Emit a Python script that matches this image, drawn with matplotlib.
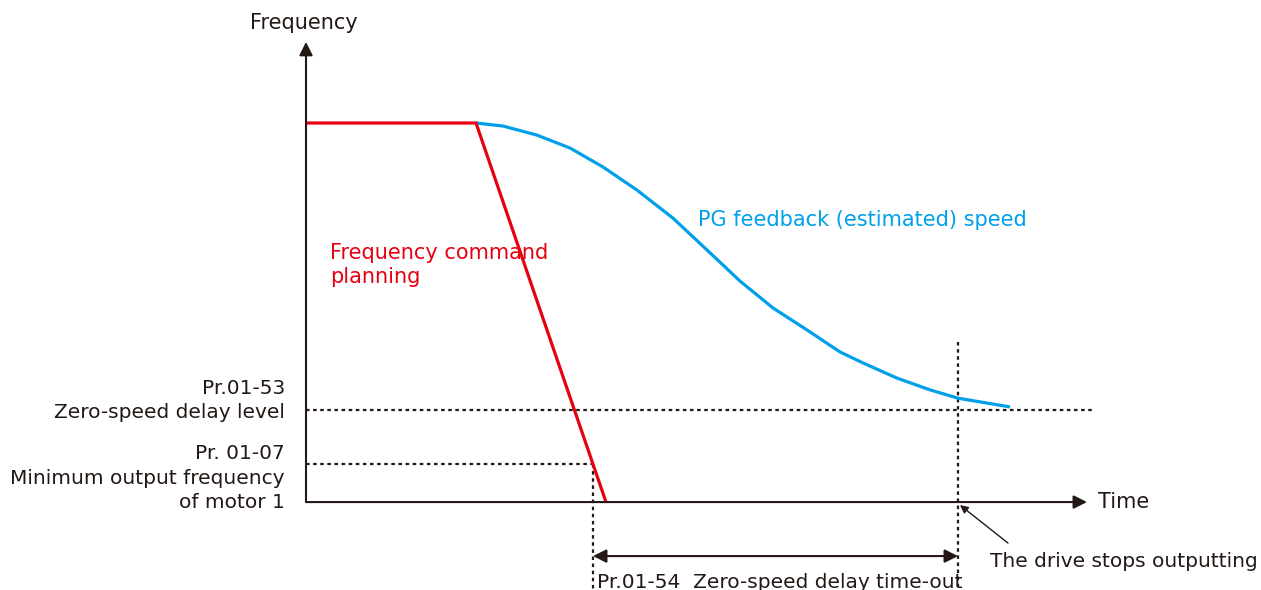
import matplotlib
matplotlib.use("Agg")
import matplotlib.pyplot as plt

# chart values (time in arbitrary units, frequency in % of max)
cmd_time = [0.0, 1.70, 3.00]
cmd_freq = [100, 100, 0]

fb_time = [1.70, 1.97, 2.31, 2.64, 2.97, 3.31, 3.67, 4.01, 4.34, 4.67, 5.01, 5.34, 5.57, 5.91, 6.24, 6.52, 7.04]
fb_freq = [100, 99.2, 96.8, 93.4, 88.4, 82.3, 74.9, 66.5, 58.3, 51.2, 45.4, 39.6, 36.7, 32.7, 29.6, 27.4, 25.1]

zero_speed_level = 24.3
min_output_freq = 10.0
t_min_freq = 2.87
t_stop = 6.52
t_axis_end = 7.81
f_axis_end = 121.4

RED = "#e60012"
BLUE = "#00a0e9"
DARK = "#231815"

plt.rcParams["font.family"] = ["DejaVu Sans"]
FS = 14.5
FS_COL = 15

fig = plt.figure(figsize=(12.61, 5.90), dpi=100)
ax = fig.add_axes([0, 0, 1, 1])
ax.set_xlim(-3.06, 9.55)
ax.set_ylim(-23.2, 132.45)
ax.axis("off")


def px(x, y):
    # pixel position of the reference -> data coords
    return (x - 306) / 100, (502 - y) / 3.79


# axes with arrows
ax.annotate("", xy=(0, f_axis_end), xytext=(0, 0),
            arrowprops=dict(arrowstyle="-|>", color=DARK, lw=1.5, mutation_scale=20, shrinkA=0, shrinkB=0))
ax.annotate("", xy=(t_axis_end, 0), xytext=(0, 0),
            arrowprops=dict(arrowstyle="-|>", color=DARK, lw=1.5, mutation_scale=20, shrinkA=0, shrinkB=0))

dot = dict(color=DARK, lw=1.6, linestyle=(0, (1.6, 1.6)))
# zero-speed delay level
ax.plot([0, px(1092, 0)[0]], [zero_speed_level, zero_speed_level], **dot)
# minimum output frequency
ax.plot([0, t_min_freq], [min_output_freq, min_output_freq], **dot)
ax.plot([t_min_freq, t_min_freq], [min_output_freq, -23.2], **dot)
# stop time
ax.plot([t_stop, t_stop], [px(0, 342)[1], -23.2], **dot)

# curves
ax.plot(fb_time, fb_freq, color=BLUE, lw=2.3, solid_capstyle="butt", solid_joinstyle="round")
ax.plot(cmd_time, cmd_freq, color=RED, lw=2.3, solid_capstyle="butt", solid_joinstyle="miter")

# delay time-out span
y_span = px(0, 556)[1]
ax.annotate("", xy=(t_stop, y_span), xytext=(t_min_freq, y_span),
            arrowprops=dict(arrowstyle="<|-|>", color=DARK, lw=1.5, mutation_scale=20, shrinkA=0, shrinkB=0))

# pointer to stop
ax.annotate("", xy=(t_stop + 0.02, -0.8), xytext=px(1008, 543),
            arrowprops=dict(arrowstyle="-|>", color=DARK, lw=1.0, mutation_scale=12, shrinkA=0, shrinkB=0))

# texts
ax.text(*px(250, 23), "Frequency", fontsize=FS_COL, color=DARK, ha="left", va="center")
ax.text(*px(1098, 502), "Time", fontsize=FS_COL, color=DARK, ha="left", va="center")
ax.text(*px(698, 220), "PG feedback (estimated) speed", fontsize=FS_COL, color=BLUE, ha="left", va="center")
ax.text(*px(330, 253), "Frequency command", fontsize=FS_COL, color=RED, ha="left", va="center")
ax.text(*px(330, 277), "planning", fontsize=FS_COL, color=RED, ha="left", va="center")

left_labels = ["Pr.01-53", "Zero-speed delay level", "Pr. 01-07", "Minimum output frequency", "of motor 1"]
left_y = [388, 412, 453, 478, 502]
for lab, yy in zip(left_labels, left_y):
    ax.text(*px(285, yy), lab, fontsize=FS, color=DARK, ha="right", va="center")

ax.text(*px(597, 582), "Pr.01-54  Zero-speed delay time-out", fontsize=FS, color=DARK, ha="left", va="center")
ax.text(*px(990, 561), "The drive stops outputting", fontsize=FS, color=DARK, ha="left", va="center")

fig.savefig("out.png", dpi=100)
